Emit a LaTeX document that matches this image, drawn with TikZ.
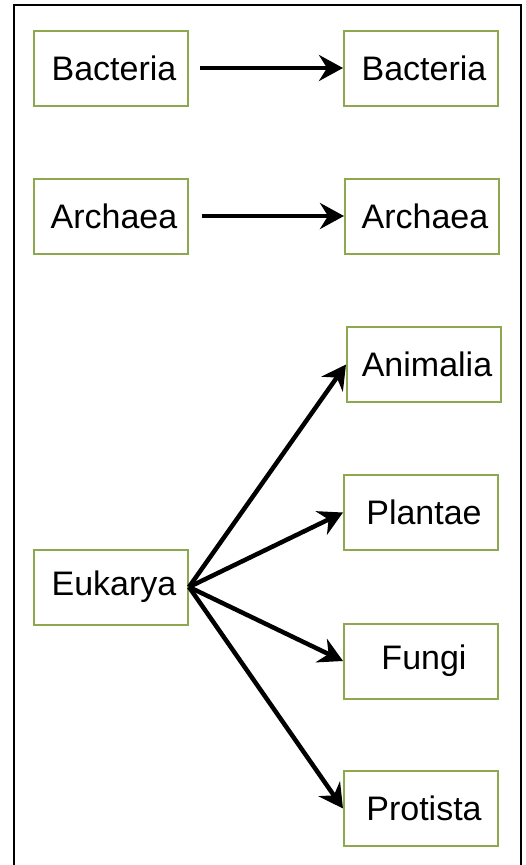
\documentclass[tikz,border=0pt]{standalone}
\usepackage{fontspec}
\setmainfont{Liberation Sans}
\usetikzlibrary{arrows.meta}
\definecolor{boxgreen}{HTML}{8EA84F}
\tikzstyle{taxon}=[draw=boxgreen, line width=2pt, minimum width=154pt, minimum height=75pt, inner sep=0pt, font=\fontsize{34}{40}\selectfont]
\tikzstyle{link}=[line width=4.5pt, -{Stealth[length=24pt, width=26pt, inset=8pt]}]
\tikzstyle{frame}=[line width=2.5pt]

\begin{document}
\begin{tikzpicture}[x=1pt, y=-1pt]
        \clip (0,0) rectangle (525,865);
        \draw[frame] (14,875) -- (14,5) -- (521,5) -- (521,875);
        % domains on the left
        \node[taxon] (bacL) at (111, 68)    {\hspace*{6pt}Bacteria};
        \node[taxon] (arcL) at (111, 216)   {\hspace*{6pt}Archaea};
        \node[taxon] (euk)  at (111, 587)   {\hspace*{6pt}Eukarya};
        % groups on the right
        \node[taxon] (bacR) at (421, 68)    {\hspace*{6pt}Bacteria};
        \node[taxon] (arcR) at (422, 216)   {\hspace*{6pt}Archaea};
        \node[taxon] (ani)  at (424, 364.5) {\hspace*{6pt}Animalia};
        \node[taxon] (pla)  at (421, 512.5) {\hspace*{6pt}Plantae};
        \node[taxon] (fun)  at (421, 661)   {\hspace*{6pt}Fungi};
        \node[taxon] (pro)  at (421, 808.5) {\hspace*{6pt}Protista};
        \draw[link, shorten <=11pt] (bacL) -- (bacR);
        \draw[link, shorten <=13pt] (arcL) -- (arcR);
        \draw[link] (euk.east) -- (ani.west);
        \draw[link] (euk.east) -- (pla.west);
        \draw[link] (euk.east) -- (fun.west);
        \draw[link] (euk.east) -- (pro.west);
    \end{tikzpicture}
\end{document}
